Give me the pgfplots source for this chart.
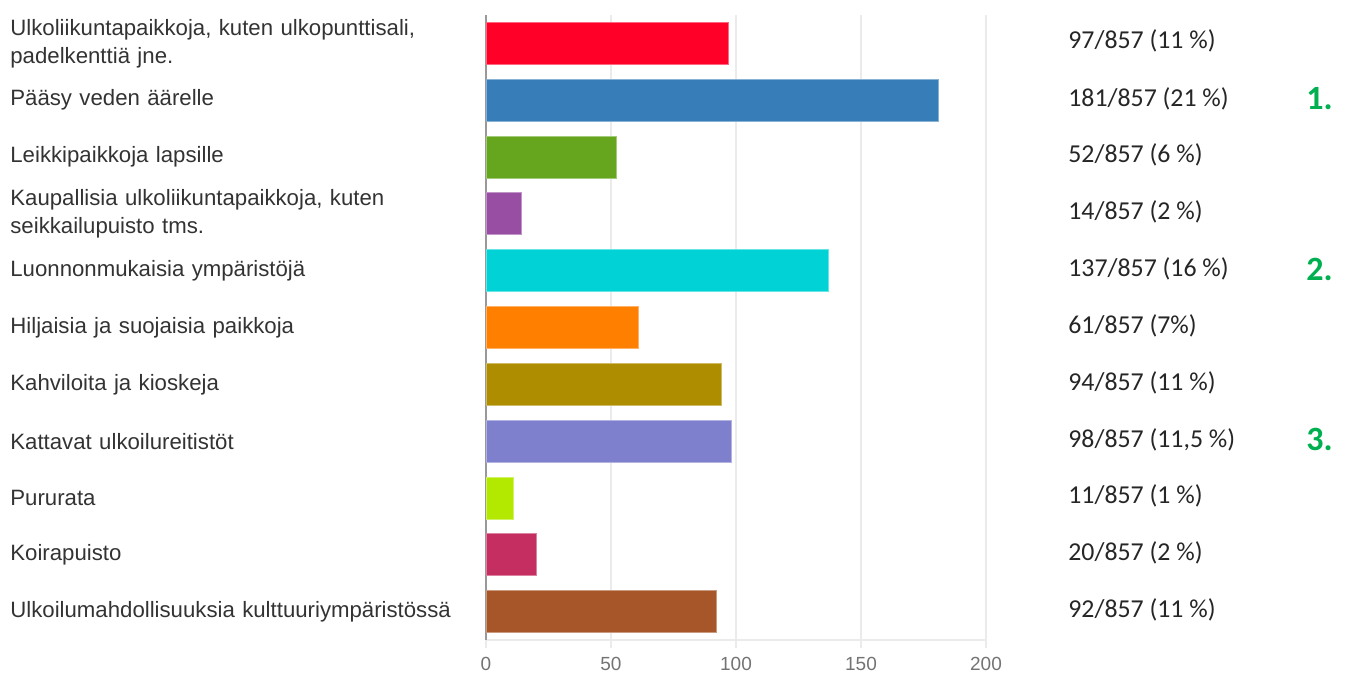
\documentclass[border=0pt]{standalone}
\usepackage{pgfplots}
\pgfplotsset{compat=1.18}
\usepackage{fontspec}
\setmainfont{Liberation Sans}
\newfontfamily\calibri{Carlito}

\definecolor{c1}{HTML}{FF0029}
\definecolor{c2}{HTML}{377EB8}
\definecolor{c3}{HTML}{66A61E}
\definecolor{c4}{HTML}{984EA3}
\definecolor{c5}{HTML}{00D2D5}
\definecolor{c6}{HTML}{FF7F00}
\definecolor{c7}{HTML}{AF8D00}
\definecolor{c8}{HTML}{7F80CD}
\definecolor{c9}{HTML}{B3E900}
\definecolor{c10}{HTML}{C42E60}
\definecolor{c11}{HTML}{A65628}
\definecolor{gridgray}{HTML}{EBEBEB}
\definecolor{rankgreen}{HTML}{00B050}
\definecolor{labelgray}{HTML}{333333}

\tikzset{
  share/.style={anchor=west, inner sep=0pt, font=\calibri\fontsize{12.9}{14}\selectfont, text=black!85},
  rank/.style={anchor=west, inner sep=0pt, font=\calibri\bfseries\fontsize{17}{19}\selectfont, text=rankgreen}
}

\begin{document}
\begin{tikzpicture}
\path[use as bounding box] (0pt,0pt) rectangle (672.5pt,337.5pt);
\begin{axis}[
  at={(243pt,17.5pt)}, anchor=south west,
  scale only axis,
  width=250pt, height=312.5pt,
  xmin=0, xmax=200,
  ymin=-0.5, ymax=10.5,
  y dir=reverse,
  xbar, bar width=0.74,
  bar shift=0pt,
  xtick={0,50,100,150,200},
  ytick={0,...,10},
  yticklabels={
    {Ulkoliikuntapaikkoja, kuten ulkopunttisali,\\padelkenttiä jne.},
    {Pääsy veden äärelle},
    {Leikkipaikkoja lapsille},
    {Kaupallisia ulkoliikuntapaikkoja, kuten\\seikkailupuisto tms.},
    {Luonnonmukaisia ympäristöjä},
    {Hiljaisia ja suojaisia paikkoja},
    {Kahviloita ja kioskeja},
    {Kattavat ulkoilureitistöt},
    {Pururata},
    {Koirapuisto},
    {Ulkoilumahdollisuuksia kulttuuriympäristössä}},
  yticklabel style={anchor=west, xshift=-234pt, text width=235pt, align=left,
    inner sep=0pt, font=\fontsize{11.1}{14}\selectfont, text=labelgray},
  xticklabel style={font=\fontsize{9.5}{10}\selectfont, text=black!55, yshift=-1pt},
  /pgf/number format/assume math mode=true,
  xmajorgrids, grid style={gridgray, line width=0.6pt},
  axis x line*=bottom, axis y line*=left,
  x axis line style={gridgray, line width=0.6pt, -},
  y axis line style={black!40, line width=0.6pt, -},
  ytick style={draw=none},
  xtick style={gridgray, line width=0.6pt},
  tick align=outside, major tick length=4pt,
  clip=false,
]
\addplot[fill=c1, draw=c1!60] coordinates {(97,0)};
\addplot[fill=c2, draw=c2!60] coordinates {(181,1)};
\addplot[fill=c3, draw=c3!60] coordinates {(52,2)};
\addplot[fill=c4, draw=c4!60] coordinates {(14,3)};
\addplot[fill=c5, draw=c5!60] coordinates {(137,4)};
\addplot[fill=c6, draw=c6!60] coordinates {(61,5)};
\addplot[fill=c7, draw=c7!60] coordinates {(94,6)};
\addplot[fill=c8, draw=c8!60] coordinates {(98,7)};
\addplot[fill=c9, draw=c9!60] coordinates {(11,8)};
\addplot[fill=c10, draw=c10!60] coordinates {(20,9)};
\addplot[fill=c11, draw=c11!60] coordinates {(92,10)};

\node[share] at (axis cs:232.8,-0.04) {97/857 (11 \%)};
\node[share] at (axis cs:232.8,0.97) {181/857 (21 \%)};
\node[share] at (axis cs:232.8,1.97) {52/857 (6 \%)};
\node[share] at (axis cs:232.8,2.97) {14/857 (2 \%)};
\node[share] at (axis cs:232.8,3.97) {137/857 (16 \%)};
\node[share] at (axis cs:232.8,4.97) {61/857 (7\%)};
\node[share] at (axis cs:232.8,5.97) {94/857 (11 \%)};
\node[share] at (axis cs:232.8,6.97) {98/857 (11,5 \%)};
\node[share] at (axis cs:232.8,7.97) {11/857 (1 \%)};
\node[share] at (axis cs:232.8,8.97) {20/857 (2 \%)};
\node[share] at (axis cs:232.8,9.97) {92/857 (11 \%)};

\node[rank] at (axis cs:328,0.97) {1.};
\node[rank] at (axis cs:328,3.97) {2.};
\node[rank] at (axis cs:328,6.97) {3.};
\end{axis}
\end{tikzpicture}
\end{document}
